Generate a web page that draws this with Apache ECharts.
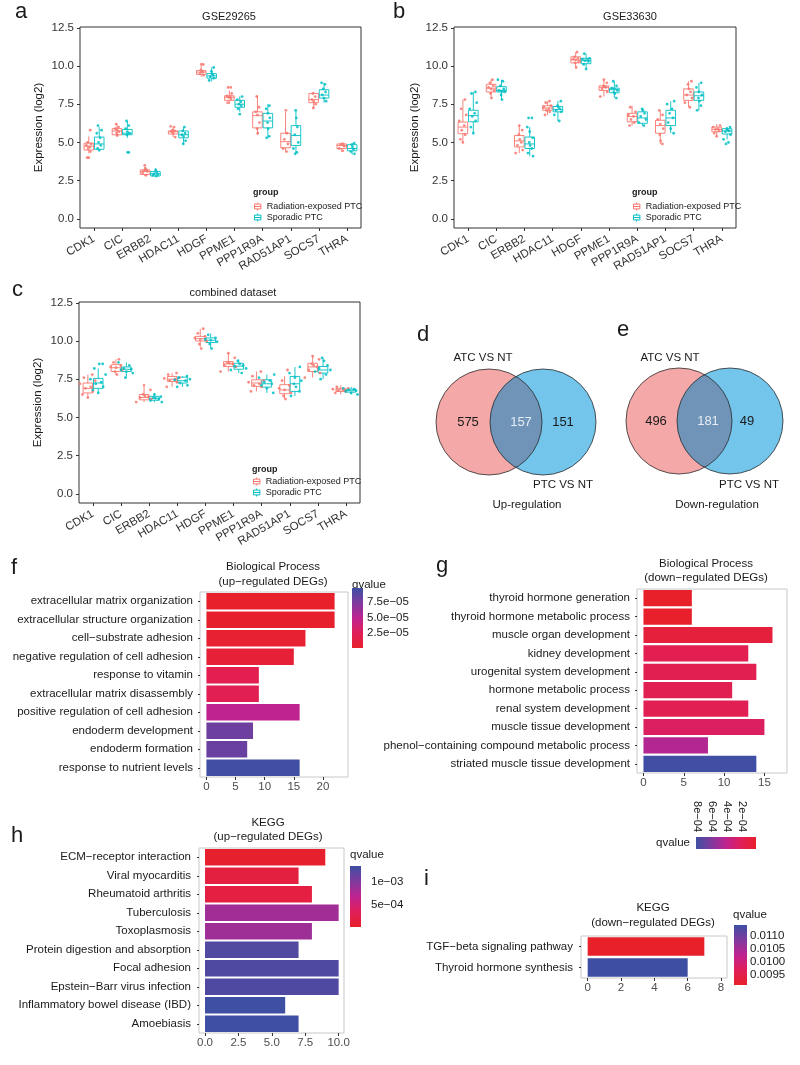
<!DOCTYPE html>
<html><head><meta charset="utf-8">
<script src="https://cdn.jsdelivr.net/npm/echarts@6/dist/echarts.min.js"></script>
<style>html,body{margin:0;padding:0;background:#fff}#c{width:800px;height:1065px}</style>
</head><body><div id="c"></div>
<script>
// ---------------- DATA ----------------
const genes = ['CDK1','CIC','ERBB2','HDAC11','HDGF','PPME1','PPP1R9A','RAD51AP1','SOCS7','THRA'];
const groupNames = ['Radiation-exposed PTC','Sporadic PTC'];
const exprTicks = [0, 2.5, 5, 7.5, 10, 12.5];
const panelTitles = ['GSE29265','GSE33630','combined dataset'];

// box stats per gene: [lower whisker, Q1, median, Q3, upper whisker]
const boxA_rad  = [[4.3,4.5,4.75,4.95,5.4],[5.4,5.5,5.75,5.9,6.2],[2.8,2.9,3.1,3.2,3.4],[5.35,5.55,5.7,5.75,6.0],[9.3,9.45,9.6,9.7,10.0],[7.5,7.75,7.95,8.05,8.4],[5.5,5.95,6.75,7.0,8.1],[4.4,4.65,5.05,5.6,7.0],[7.2,7.6,7.8,8.2,8.3],[4.4,4.6,4.8,4.9,5.0]];
const boxA_spo  = [[4.4,4.55,4.9,5.35,6.0],[5.3,5.5,5.6,5.85,6.4],[2.75,2.8,2.95,3.1,3.3],[4.9,5.3,5.5,5.75,6.0],[9.0,9.2,9.35,9.5,9.9],[7.0,7.3,7.5,7.75,8.0],[5.3,5.95,6.4,6.9,7.5],[4.3,4.8,5.45,6.1,7.1],[7.6,7.9,8.1,8.45,8.9],[4.2,4.45,4.6,4.85,4.95]];
const boxB_rad  = [[5.0,5.57,6.0,6.33,7.8],[7.9,8.3,8.55,8.8,9.1],[4.3,4.7,5.1,5.45,6.1],[6.8,7.1,7.25,7.4,7.7],[9.9,10.2,10.4,10.6,10.9],[8.0,8.4,8.6,8.7,9.1],[6.1,6.35,6.7,6.9,7.4],[4.9,5.6,6.1,6.45,7.1],[7.3,7.75,8.1,8.5,9.0],[5.4,5.7,5.85,6.0,6.2]];
const boxB_spo  = [[5.6,6.35,6.75,7.1,8.3],[7.8,8.3,8.4,8.65,9.1],[4.1,4.6,4.9,5.35,6.0],[6.4,7.0,7.15,7.35,7.7],[9.8,10.15,10.35,10.5,10.8],[7.9,8.25,8.45,8.55,9.0],[6.1,6.25,6.6,7.0,7.2],[5.6,6.1,6.6,7.1,7.7],[7.1,7.75,8.05,8.3,8.9],[5.2,5.55,5.75,5.9,6.0]];
const boxC_rad  = [[6.3,6.6,6.9,7.25,7.8],[7.8,8.0,8.25,8.45,8.8],[6.0,6.15,6.3,6.5,7.0],[7.0,7.35,7.5,7.68,7.9],[9.6,10.0,10.15,10.3,10.8],[8.0,8.33,8.5,8.65,9.2],[6.7,7.03,7.25,7.46,8.0],[6.2,6.55,6.8,7.14,7.7],[7.6,8.0,8.3,8.54,9.0],[6.5,6.7,6.8,6.9,7.1]];
const boxC_spo  = [[6.6,6.9,7.25,7.55,8.2],[7.6,8.0,8.15,8.3,8.6],[6.0,6.12,6.25,6.38,6.6],[7.0,7.25,7.4,7.63,7.7],[9.5,9.9,10.05,10.2,10.5],[7.9,8.15,8.35,8.54,8.8],[6.6,6.98,7.2,7.46,7.8],[6.4,6.7,7.2,7.68,8.3],[7.5,7.9,8.1,8.33,8.9],[6.5,6.65,6.75,6.85,7.0]];

// individual sample values per gene
const ptsA_rad = [[4.0,4.0,4.4,4.6,4.7,4.8,4.9,5.0,5.8],[5.45,5.6,5.7,5.8,5.9,6.0,6.2],[2.85,3.0,3.1,3.15,3.2,3.3,3.5],[5.35,5.6,5.7,5.75,5.8,6.0,6.05],[9.4,9.5,9.6,9.65,9.75,10.1,10.1],[7.6,7.85,7.95,8.0,8.05,8.2,8.6,8.6],[5.6,5.9,6.3,6.8,7.0,7.3,8.0],[4.4,4.6,4.9,5.2,5.6,7.1],[7.25,7.5,7.7,7.8,8.0,8.2],[4.45,4.6,4.75,4.85,4.9]];
const ptsA_spo = [[4.5,4.6,4.8,5.0,5.3,5.6,5.8,6.1],[4.35,4.35,5.5,5.6,5.7,5.9,6.1,6.4],[2.8,2.85,2.9,2.95,3.05,3.2],[4.9,5.1,5.4,5.5,5.6,5.75,6.0],[9.05,9.2,9.3,9.4,9.5,9.65,9.9],[6.85,7.2,7.4,7.5,7.65,7.8,8.0],[5.3,5.4,5.9,6.3,6.6,6.9,7.2,7.4],[4.25,4.35,4.6,5.0,5.5,6.0,6.6,7.1],[7.7,7.9,8.1,8.3,8.5,8.8,8.9],[4.25,4.4,4.55,4.7,4.85,4.95]];
const ptsB_rad = [[5.0,5.2,5.5,5.8,6.1,6.4,6.8,7.2,7.8],[7.9,8.2,8.4,8.5,8.6,8.7,8.9,9.1],[4.3,4.5,4.8,5.0,5.2,5.5,5.8,6.1],[6.8,7.0,7.1,7.2,7.3,7.4,7.6,7.7],[9.9,10.2,10.3,10.4,10.45,10.5,10.6,10.9],[8.0,8.3,8.5,8.6,8.65,8.7,8.9,9.1],[6.1,6.3,6.5,6.7,6.8,7.0,7.3],[4.9,5.1,5.5,5.9,6.2,6.5,6.8,7.1],[7.3,7.6,7.9,8.1,8.3,8.5,8.8,9.0],[5.4,5.6,5.75,5.85,5.9,6.0,6.1]];
const ptsB_spo = [[5.6,6.0,6.4,6.7,6.9,7.2,7.6,8.2,8.3],[7.8,8.1,8.3,8.35,8.4,8.5,8.7,9.0,9.1],[4.1,4.3,4.6,4.8,5.0,5.3,5.7,6.0,6.6,6.6],[6.4,6.8,7.0,7.1,7.2,7.3,7.4,7.7],[9.8,10.1,10.3,10.35,10.4,10.45,10.5,10.8],[7.9,8.2,8.3,8.4,8.5,8.55,8.7,9.0],[6.1,6.3,6.5,6.7,6.9,7.1,7.2],[5.6,5.9,6.3,6.6,6.9,7.2,7.5,7.7],[7.1,7.4,7.7,7.9,8.1,8.3,8.6,8.9],[4.9,5.0,5.2,5.5,5.7,5.75,5.8,5.9,6.0]];
const ptsC_rad = [[6.3,6.5,6.7,6.9,7.0,7.2,7.4,7.6,7.8],[7.8,8.0,8.1,8.25,8.3,8.4,8.6,8.8],[6.0,6.2,6.3,6.35,6.4,6.5,6.8,7.1],[7.0,7.3,7.4,7.5,7.55,7.6,7.8,7.9],[9.5,9.8,10.0,10.1,10.2,10.3,10.5,10.8],[8.0,8.3,8.4,8.5,8.55,8.6,8.9,9.2],[6.7,7.0,7.1,7.2,7.3,7.4,7.7,8.0],[6.2,6.4,6.6,6.8,6.9,7.1,7.4,8.1],[7.6,7.9,8.1,8.3,8.4,8.5,8.8,9.0],[6.6,6.7,6.75,6.8,6.85,6.9,7.0]];
const ptsC_spo = [[6.6,6.8,7.0,7.2,7.3,7.5,7.8,8.2,8.5,8.5],[7.6,7.9,8.0,8.1,8.15,8.2,8.4,8.6],[6.0,6.1,6.2,6.25,6.3,6.35,6.5],[7.0,7.1,7.25,7.4,7.45,7.5,7.6,7.7],[9.5,9.8,9.95,10.05,10.1,10.2,10.4],[7.9,8.1,8.2,8.35,8.4,8.5,8.7],[6.6,6.9,7.1,7.2,7.3,7.4,7.6,7.8],[6.4,6.7,7.0,7.2,7.4,7.6,7.9,8.3],[7.5,7.8,8.0,8.1,8.2,8.4,8.7,8.9],[6.5,6.6,6.7,6.75,6.8,6.85,6.9]];

// Venn counts: [only set 1, both, only set 2]
const vennSets = ['ATC VS NT','PTC VS NT'];
const vennUpCounts = [575, 157, 151];
const vennDownCounts = [496, 181, 49];

// Enrichment bars
const bpUpTerms = ['extracellular matrix organization','extracellular structure organization','cell−substrate adhesion','negative regulation of cell adhesion','response to vitamin','extracellular matrix disassembly','positive regulation of cell adhesion','endoderm development','endoderm formation','response to nutrient levels'];
const bpUpCounts = [22,22,17,15,9,9,16,8,7,16];
const bpUpQ = [2e-6,3e-6,5e-6,7e-6,2.0e-5,2.1e-5,4.9e-5,8.0e-5,8.2e-5,9.7e-5];
const bpUpCountTicks = [0,5,10,15,20];
const bpUpQTicks = [2.5e-5,5e-5,7.5e-5];

const bpDownTerms = ['thyroid hormone generation','thyroid hormone metabolic process','muscle organ development','kidney development','urogenital system development','hormone metabolic process','renal system development','muscle tissue development','phenol−containing compound metabolic process','striated muscle tissue development'];
const bpDownCounts = [6,6,16,13,14,11,13,15,8,14];
const bpDownQ = [2.2e-5,2.5e-5,1.0e-4,1.75e-4,1.8e-4,1.8e-4,1.85e-4,2.4e-4,4.5e-4,8.05e-4];
const bpDownCountTicks = [0,5,10,15];
const bpDownQTicks = [2e-4,4e-4,6e-4,8e-4];

const keggUpTerms = ['ECM−receptor interaction','Viral myocarditis','Rheumatoid arthritis','Tuberculosis','Toxoplasmosis','Protein digestion and absorption','Focal adhesion','Epstein−Barr virus infection','Inflammatory bowel disease (IBD)','Amoebiasis'];
const keggUpCounts = [9,7,8,10,8,7,10,10,6,7];
const keggUpQ = [4.5e-5,1.8e-4,1.9e-4,8.4e-4,8.6e-4,1.25e-3,1.26e-3,1.26e-3,1.345e-3,1.345e-3];
const keggUpCountTicks = [0,2.5,5,7.5,10];
const keggUpQTicks = [5e-4,1e-3];

const keggDownTerms = ['TGF−beta signaling pathway','Thyroid hormone synthesis'];
const keggDownCounts = [7,6];
const keggDownQ = [0.00912,0.01142];
const keggDownCountTicks = [0,2,4,6,8];
const keggDownQTicks = [0.0095,0.0100,0.0105,0.0110];

// ---------------- STYLE / LAYOUT ----------------
const FONT = '"Liberation Sans", Arial, sans-serif';
const RED = '#F8766D', TEAL = '#00BFC4';
const QPAL = ['#E8202A','#E01F5A','#BF2390','#7F3A9E','#3E4FA3'];
const JIT = [0,-0.55,0.5,-0.25,0.3,-0.8,0.75,-0.4,0.45,0.1,-0.1,0.65];

function sci(v, d) {
  let e = Math.floor(Math.log10(Math.abs(v)) + 1e-9);
  let m = v / Math.pow(10, e);
  let ms = m.toFixed(d);
  return ms + 'e' + (e < 0 ? '−' : '+') + String(Math.abs(e)).padStart(2, '0');
}

const grids = [
  {left:80, top:27, width:281, height:201, show:true, borderColor:'#333', borderWidth:1},
  {left:454, top:27, width:282, height:201, show:true, borderColor:'#333', borderWidth:1},
  {left:79, top:302, width:281, height:201, show:true, borderColor:'#333', borderWidth:1},
  {left:200, top:592, width:148, height:185, show:true, borderColor:'#C8C8C8', borderWidth:1},
  {left:637, top:589, width:150, height:184, show:true, borderColor:'#C8C8C8', borderWidth:1},
  {left:199, top:848, width:145, height:185, show:true, borderColor:'#C8C8C8', borderWidth:1},
  {left:581, top:936, width:146, height:42, show:true, borderColor:'#C8C8C8', borderWidth:1},
  {left:352, top:588, width:11, height:60},
  {left:696, top:837, width:60, height:12},
  {left:350, top:866, width:11, height:61},
  {left:734, top:925, width:13, height:60}
].map(g => Object.assign({outerBoundsMode:'none', containLabel:false}, g));

const NOLINE = {show:false, onZero:false};
const xAxes = [], yAxes = [], series = [], visualMaps = [];

// ---- box panels ----
const boxSets = [[boxA_rad, boxA_spo, ptsA_rad, ptsA_spo, 0.22],
                 [boxB_rad, boxB_spo, ptsB_rad, ptsB_spo, 0.32],
                 [boxC_rad, boxC_spo, ptsC_rad, ptsC_spo, 0.7]];
const nameGaps = [35, 33, 35];

function boxRender(sign, color) {
  return function (params, api) {
    const ci = api.value(0);
    const lo = api.coord([ci, api.value(1)]);
    const q1 = api.coord([ci, api.value(2)]);
    const md = api.coord([ci, api.value(3)]);
    const q3 = api.coord([ci, api.value(4)]);
    const hi = api.coord([ci, api.value(5)]);
    const bw = api.size([1, 0])[0];
    const cx = lo[0] + sign * bw * 0.185;
    const w = bw * 0.34;
    const st = {stroke: color, lineWidth: 0.9, fill: null};
    return {type:'group', children:[
      {type:'line', shape:{x1:cx, y1:hi[1], x2:cx, y2:q3[1]}, style:st},
      {type:'line', shape:{x1:cx, y1:q1[1], x2:cx, y2:lo[1]}, style:st},
      {type:'rect', shape:{x:cx - w/2, y:q3[1], width:w, height:q1[1]-q3[1]}, style:{stroke:color, lineWidth:0.9, fill:'rgba(255,255,255,0.6)'}},
      {type:'line', shape:{x1:cx - w/2, y1:md[1], x2:cx + w/2, y2:md[1]}, style:st}
    ]};
  };
}
function ptRender(sign, color, spread) {
  return function (params, api) {
    const p = api.coord([api.value(0), api.value(1)]);
    const bw = api.size([1, 0])[0];
    const j = JIT[params.dataIndex % JIT.length];
    return {type:'circle', shape:{cx: p[0] + sign * bw * 0.185 + j * spread * bw * 0.5, cy: p[1], r: 1.4},
            style:{fill: color, opacity: 0.85}};
  };
}
boxSets.forEach((set, p) => {
  xAxes.push({gridIndex:p, type:'category', data:genes, boundaryGap:true,
    axisLine:NOLINE, splitLine:{show:false},
    axisTick:{show:true, alignWithLabel:true, length:3, lineStyle:{color:'#333'}},
    axisLabel:{interval:0, rotate:30, fontSize:11.5, color:'#333', margin:10, fontFamily:FONT}});
  yAxes.push({gridIndex:p, type:'value', min:-0.6, max:12.55,
    axisLine:NOLINE, splitLine:{show:false},
    axisTick:{show:true, customValues:exprTicks, length:3, lineStyle:{color:'#333'}},
    axisLabel:{customValues:exprTicks, formatter:v => v.toFixed(1), fontSize:11.5, color:'#333', margin:6, fontFamily:FONT},
    name:'Expression (log2)', nameLocation:'middle', nameGap:nameGaps[p],
    nameTextStyle:{fontSize:11.5, color:'#1a1a1a', fontFamily:FONT}});
  const mk = (stats) => stats.map((s, i) => [i].concat(s));
  const mkp = (pts) => { const o = []; pts.forEach((a, i) => a.forEach(v => o.push([i, v]))); return o; };
  series.push({type:'custom', name:groupNames[0], xAxisIndex:p, yAxisIndex:p, data:mk(set[0]),
    encode:{x:0, y:[1,2,3,4,5]}, renderItem:boxRender(-1, RED), itemStyle:{color:RED}, clip:false, silent:true});
  series.push({type:'custom', name:groupNames[1], xAxisIndex:p, yAxisIndex:p, data:mk(set[1]),
    encode:{x:0, y:[1,2,3,4,5]}, renderItem:boxRender(1, TEAL), itemStyle:{color:TEAL}, clip:false, silent:true});
  series.push({type:'custom', name:'pts-r' + p, xAxisIndex:p, yAxisIndex:p, data:mkp(set[2]),
    encode:{x:0, y:1}, renderItem:ptRender(-1, RED, set[4]), clip:false, silent:true, z:3});
  series.push({type:'custom', name:'pts-t' + p, xAxisIndex:p, yAxisIndex:p, data:mkp(set[3]),
    encode:{x:0, y:1}, renderItem:ptRender(1, TEAL, set[4]), clip:false, silent:true, z:3});
});

// ---- bar panels ----
const barSets = [
  {terms:bpUpTerms, counts:bpUpCounts, q:bpUpQ, min:-1.1, max:24.3, ticks:bpUpCountTicks, fmt:v => String(v), margin:7,
   cb:{grid:7, vertical:true, qmin:1e-6, qmax:9.76e-5, ticks:bpUpQTicks, fmt:v => sci(v,1), margin:4}},
  {terms:bpDownTerms, counts:bpDownCounts, q:bpDownQ, min:-0.8, max:17.8, ticks:bpDownCountTicks, fmt:v => String(v), margin:7,
   cb:{grid:8, vertical:false, qmin:2e-5, qmax:8.1e-4, ticks:bpDownQTicks, fmt:v => sci(v,0), margin:5}},
  {terms:keggUpTerms, counts:keggUpCounts, q:keggUpQ, min:-0.45, max:10.4, ticks:keggUpCountTicks, fmt:v => v.toFixed(1), margin:8,
   cb:{grid:9, vertical:true, qmin:2.2e-5, qmax:1.35e-3, ticks:keggUpQTicks, fmt:v => sci(v,0), margin:10}},
  {terms:keggDownTerms, counts:keggDownCounts, q:keggDownQ, min:-0.4, max:8.36, ticks:keggDownCountTicks, fmt:v => String(v), margin:8,
   cb:{grid:10, vertical:true, qmin:0.00912, qmax:0.01142, ticks:keggDownQTicks, fmt:v => v.toFixed(4), margin:3}}
];
barSets.forEach((b, k) => {
  const gi = 3 + k;
  xAxes.push({gridIndex:gi, type:'value', min:b.min, max:b.max,
    axisLine:NOLINE, splitLine:{show:false},
    axisTick:{show:true, customValues:b.ticks, length:3, lineStyle:{color:'#333'}},
    axisLabel:{customValues:b.ticks, formatter:b.fmt, fontSize:11.5, color:'#4d4d4d', margin:4, fontFamily:FONT}});
  yAxes.push({gridIndex:gi, type:'category', data:b.terms, inverse:true,
    axisLine:NOLINE, splitLine:{show:false},
    axisTick:{show:true, alignWithLabel:true, length:2, lineStyle:{color:'#333'}},
    axisLabel:{interval:0, fontSize:11.5, color:'#1a1a1a', margin:b.margin, fontFamily:FONT}});
  const si = series.length;
  series.push({type:'bar', xAxisIndex:gi, yAxisIndex:gi,
    data:b.terms.map((t, i) => [b.counts[i], t, b.q[i]]),
    encode:{x:0, y:1}, barCategoryGap:'12%', silent:true});
  visualMaps.push({type:'continuous', show:false, seriesIndex:si, dimension:2,
    min:b.cb.qmin, max:b.cb.qmax, inRange:{color:QPAL}});
});

// ---- colorbars ----
function cbStops() { return QPAL.map((c, i) => ({offset: i / (QPAL.length - 1), color: c})); }
barSets.forEach((b) => {
  const c = b.cb;
  if (c.vertical) {
    xAxes.push({gridIndex:c.grid, type:'value', min:0, max:1, show:false});
    yAxes.push({gridIndex:c.grid, type:'value', min:c.qmin, max:c.qmax, position:'right',
      axisLine:NOLINE, splitLine:{show:false}, axisTick:{show:false},
      axisLabel:{customValues:c.ticks, formatter:c.fmt, fontSize:11.5, color:'#1a1a1a', margin:c.margin, fontFamily:FONT}});
    series.push({type:'custom', xAxisIndex:c.grid, yAxisIndex:c.grid, data:[[0, c.qmin, 1, c.qmax]],
      encode:{x:[0,2], y:[1,3]}, clip:false, silent:true,
      renderItem:(params, api) => {
        const p1 = api.coord([api.value(0), api.value(1)]);
        const p2 = api.coord([api.value(2), api.value(3)]);
        return {type:'rect', shape:{x:p1[0], y:p2[1], width:p2[0]-p1[0], height:p1[1]-p2[1]},
          style:{fill:new echarts.graphic.LinearGradient(0, 1, 0, 0, cbStops())}};
      }});
  } else {
    xAxes.push({gridIndex:c.grid, type:'value', min:c.qmin, max:c.qmax, inverse:true, position:'top',
      axisLine:NOLINE, splitLine:{show:false}, axisTick:{show:false},
      axisLabel:{customValues:c.ticks, formatter:c.fmt, rotate:90, fontSize:11, color:'#1a1a1a', margin:c.margin, fontFamily:FONT}});
    yAxes.push({gridIndex:c.grid, type:'value', min:0, max:1, show:false});
    series.push({type:'custom', xAxisIndex:c.grid, yAxisIndex:c.grid, data:[[c.qmin, 0, c.qmax, 1]],
      encode:{x:[0,2], y:[1,3]}, clip:false, silent:true,
      renderItem:(params, api) => {
        const p1 = api.coord([api.value(0), api.value(1)]);
        const p2 = api.coord([api.value(2), api.value(3)]);
        const x0 = Math.min(p1[0], p2[0]), w = Math.abs(p2[0] - p1[0]);
        const lowRight = p1[0] > p2[0];
        return {type:'rect', shape:{x:x0, y:p2[1], width:w, height:p1[1]-p2[1]},
          style:{fill:new echarts.graphic.LinearGradient(lowRight ? 1 : 0, 0, lowRight ? 0 : 1, 0, cbStops())}};
      }});
  }
});

// ---- text & venn graphics ----
function txt(x, y, text, size, opts) {
  opts = opts || {};
  return {type:'text', x:x, y:y, silent:true, style:Object.assign({
    text:text, fontSize:size, fontFamily:FONT, fill:opts.fill || '#1a1a1a',
    align:opts.align || 'center', verticalAlign:'middle',
    textAlign:opts.align || 'center', textVerticalAlign:'middle', fontWeight:opts.bold ? 'bold' : 'normal'})};
}
const graphics = [];
[['a',15,11.5],['b',393,11.5],['c',12,289.5],['d',417,334.5],['e',617,329.5],['f',11,567.5],['g',436,565.5],['h',11,835.5],['i',424,878.5]]
  .forEach(l => graphics.push(txt(l[1], l[2], l[0], 22, {align:'left'})));
graphics.push(txt(229, 17, panelTitles[0], 11));
graphics.push(txt(630, 17, panelTitles[1], 11));
graphics.push(txt(233, 293, panelTitles[2], 11));
graphics.push(txt(253, 193, 'group', 9, {align:'left', bold:true}));
graphics.push(txt(632, 193, 'group', 9, {align:'left', bold:true}));
graphics.push(txt(252, 470, 'group', 9, {align:'left', bold:true}));
graphics.push(txt(273, 567, 'Biological Process', 11.5));
graphics.push(txt(273, 582, '(up−regulated DEGs)', 11.5));
graphics.push(txt(706, 564, 'Biological Process', 11.5));
graphics.push(txt(706, 578, '(down−regulated DEGs)', 11.5));
graphics.push(txt(268, 823, 'KEGG', 11.5));
graphics.push(txt(268, 837, '(up−regulated DEGs)', 11.5));
graphics.push(txt(653, 908, 'KEGG', 11.5));
graphics.push(txt(653, 923, '(down−regulated DEGs)', 11.5));
graphics.push(txt(352, 585, 'qvalue', 11.5, {align:'left'}));
graphics.push(txt(673, 843, 'qvalue', 11.5));
graphics.push(txt(350, 855, 'qvalue', 11.5, {align:'left'}));
graphics.push(txt(733, 915, 'qvalue', 11.5, {align:'left'}));

function venn(c1x, c2x, cy, r, counts, caption, pos) {
  const d = c2x - c1x, h = Math.sqrt(r*r - d*d/4);
  const a = Math.asin(h / r);
  const pts = [], N = 40;
  for (let i = 0; i <= N; i++) { const t = -a + 2 * a * i / N; pts.push([c1x + r * Math.cos(t), cy + r * Math.sin(t)]); }
  for (let i = 0; i <= N; i++) { const t = Math.PI - a + 2 * a * i / N; pts.push([c2x + r * Math.cos(t), cy + r * Math.sin(t)]); }
  graphics.push({type:'circle', silent:true, shape:{cx:c1x, cy:cy, r:r}, style:{fill:'#F5A8A8'}});
  graphics.push({type:'circle', silent:true, shape:{cx:c2x, cy:cy, r:r}, style:{fill:'#73C5EC'}});
  graphics.push({type:'polygon', silent:true, shape:{points:pts}, style:{fill:'#6F94B8'}});
  graphics.push({type:'circle', silent:true, shape:{cx:c1x, cy:cy, r:r}, style:{fill:null, stroke:'#2b2b2b', lineWidth:0.8}});
  graphics.push({type:'circle', silent:true, shape:{cx:c2x, cy:cy, r:r}, style:{fill:null, stroke:'#2b2b2b', lineWidth:0.8}});
  graphics.push(txt(pos.n1, cy, String(counts[0]), 13));
  graphics.push(txt(pos.n2, cy, String(counts[1]), 13, {fill:'#E6EDF5'}));
  graphics.push(txt(pos.n3, cy, String(counts[2]), 13));
  graphics.push(txt(pos.s1, 358, vennSets[0], 11.5));
  graphics.push(txt(pos.s2, 485, vennSets[1], 11.5));
  graphics.push(txt(pos.cap, 505, caption, 11.5));
}
venn(489, 543, 422, 53, vennUpCounts, 'Up-regulation', {n1:468, n2:521, n3:563, s1:483, s2:563, cap:527});
venn(679, 730, 421, 53, vennDownCounts, 'Down-regulation', {n1:656, n2:708, n3:747, s1:670, s2:749, cap:717});

// ---- legends ----
const boxIcon = 'path://M5,0V2 M1,2H9V8H1Z M1,5H9 M5,8V10';
function legendAt(left, top) {
  return {left:left, top:top, orient:'vertical', itemWidth:8, itemHeight:8, itemGap:2, padding:0,
    selectedMode:false, textStyle:{fontSize:9, color:'#1a1a1a', fontFamily:FONT},
    data:[{name:groupNames[0], icon:boxIcon, itemStyle:{color:'#fff', borderColor:RED, borderWidth:1}},
          {name:groupNames[1], icon:boxIcon, itemStyle:{color:'#fff', borderColor:TEAL, borderWidth:1}}]};
}

const chart = echarts.init(document.getElementById('c'), null, {renderer:'canvas'});
chart.setOption({
  backgroundColor:'#fff',
  animation:false,
  textStyle:{fontFamily:FONT},
  grid:grids,
  xAxis:xAxes,
  yAxis:yAxes,
  visualMap:visualMaps,
  legend:[legendAt(254, 202), legendAt(633, 202), legendAt(253, 477)],
  series:series,
  graphic:{elements:graphics}
});
</script></body></html>
